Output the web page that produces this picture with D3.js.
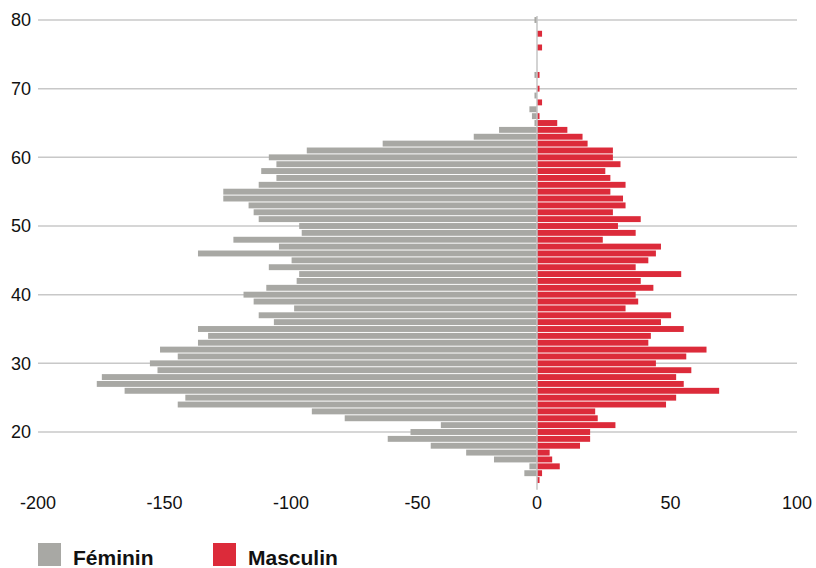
<!DOCTYPE html>
<html>
<head>
<meta charset="utf-8">
<script src="https://cdn.jsdelivr.net/npm/d3@7"></script>
<style>
  body { margin: 0; background: #fff; }
  svg { display: block; font-family: "Liberation Sans", Arial, sans-serif; }
</style>
</head>
<body>
<svg id="pyramid"></svg>
<script>
// ages from 80 down to 13
const ages = d3.range(80, 12, -1);
const feminin = [
  1, 0, 0, 0, 0, 0, 0, 0, 1, 0,
  0, 1, 0, 3, 2, 1, 15, 25, 61, 91,
  106, 103, 109, 103, 110, 124, 124, 114, 112, 110,
  94, 93, 120, 102, 134, 97, 106, 94, 95, 107,
  116, 112, 96, 110, 104, 134, 130, 134, 149, 142,
  153, 150, 172, 174, 163, 139, 142, 89, 76, 38,
  50, 59, 42, 28, 17, 3, 5, 0
];
const masculin = [
  0, 0, 2, 0, 2, 0, 0, 0, 1, 0,
  1, 0, 2, 0, 1, 8, 12, 18, 20, 30,
  30, 33, 27, 29, 35, 29, 34, 35, 30, 41,
  32, 39, 26, 49, 47, 44, 39, 57, 41, 46,
  39, 40, 35, 53, 49, 58, 45, 44, 67, 59,
  47, 61, 55, 58, 72, 55, 51, 23, 24, 31,
  21, 21, 17, 5, 6, 9, 2, 1
];
const xTicks = [-200, -150, -100, -50, 0, 50, 100];
const yTicks = [20, 30, 40, 50, 60, 70, 80];
const series = [
  { key: "feminin", label: "Féminin", color: "#a8a8a4" },
  { key: "masculin", label: "Masculin", color: "#dc2b3a" }
];

class Pyramid {
  static createChart() {
    let width = 816,
      height = 568,
      svg = d3.select("#pyramid").attr("width", width).attr("height", height);

    let x = d3.scaleLinear().domain([-200, 100]).range([31, 790]);
    // axis & grid span a little to the right of the bar scale
    let xAxis = x.copy().range([38, 797]);
    let y = d3.scaleLinear().domain([20, 80]).range([432, 20]);
    let barH = (y(20) - y(21)) * 0.86;

    // horizontal grid
    svg.append("g")
      .selectAll("line")
      .data(yTicks)
      .enter()
      .append("line")
      .attr("x1", xAxis(-200))
      .attr("x2", xAxis(100))
      .attr("y1", (d) => y(d))
      .attr("y2", (d) => y(d))
      .attr("stroke", "#c8c8c8")
      .attr("stroke-width", 1.5);

    svg.append("g")
      .selectAll("text")
      .data(yTicks)
      .enter()
      .append("text")
      .attr("x", 31)
      .attr("y", (d) => y(d))
      .attr("dy", "0.35em")
      .attr("text-anchor", "end")
      .attr("font-size", 18)
      .attr("fill", "#111")
      .text((d) => d);

    let rows = ages.map((a, i) => ({ age: a, feminin: feminin[i], masculin: masculin[i] }));

    // Féminin to the left
    svg.append("g")
      .selectAll("rect")
      .data(rows)
      .enter()
      .append("rect")
      .attr("x", (d) => x(-d.feminin))
      .attr("y", (d) => y(d.age) - barH / 2)
      .attr("width", (d) => x(0) - x(-d.feminin))
      .attr("height", barH)
      .attr("fill", series[0].color);

    // Masculin to the right
    svg.append("g")
      .selectAll("rect")
      .data(rows)
      .enter()
      .append("rect")
      .attr("x", x(0))
      .attr("y", (d) => y(d.age) - barH / 2)
      .attr("width", (d) => x(d.masculin) - x(0))
      .attr("height", barH)
      .attr("fill", series[1].color);

    // zero line
    svg.append("line")
      .attr("x1", x(0))
      .attr("x2", x(0))
      .attr("y1", y(80.6))
      .attr("y2", y(11.6))
      .attr("stroke", "#c4c4c4")
      .attr("stroke-width", 1.5);

    svg.append("g")
      .selectAll("text")
      .data(xTicks)
      .enter()
      .append("text")
      .attr("x", (d) => (d == 0 ? x(0) : xAxis(d)))
      .attr("y", 509)
      .attr("text-anchor", "middle")
      .attr("font-size", 18)
      .attr("fill", "#111")
      .text((d) => d);

    // legend
    let legend = svg.append("g")
      .selectAll("g")
      .data(series)
      .enter()
      .append("g")
      .attr("transform", (d, i) => "translate(" + (38 + i * 175) + ",543)");

    legend.append("rect")
      .attr("width", 23)
      .attr("height", 23)
      .attr("fill", (d) => d.color);

    legend.append("text")
      .attr("x", 35)
      .attr("y", 22)
      .attr("font-size", 21)
      .attr("font-weight", "bold")
      .attr("fill", "#111")
      .text((d) => d.label);
  }
}

Pyramid.createChart();
</script>
</body>
</html>
